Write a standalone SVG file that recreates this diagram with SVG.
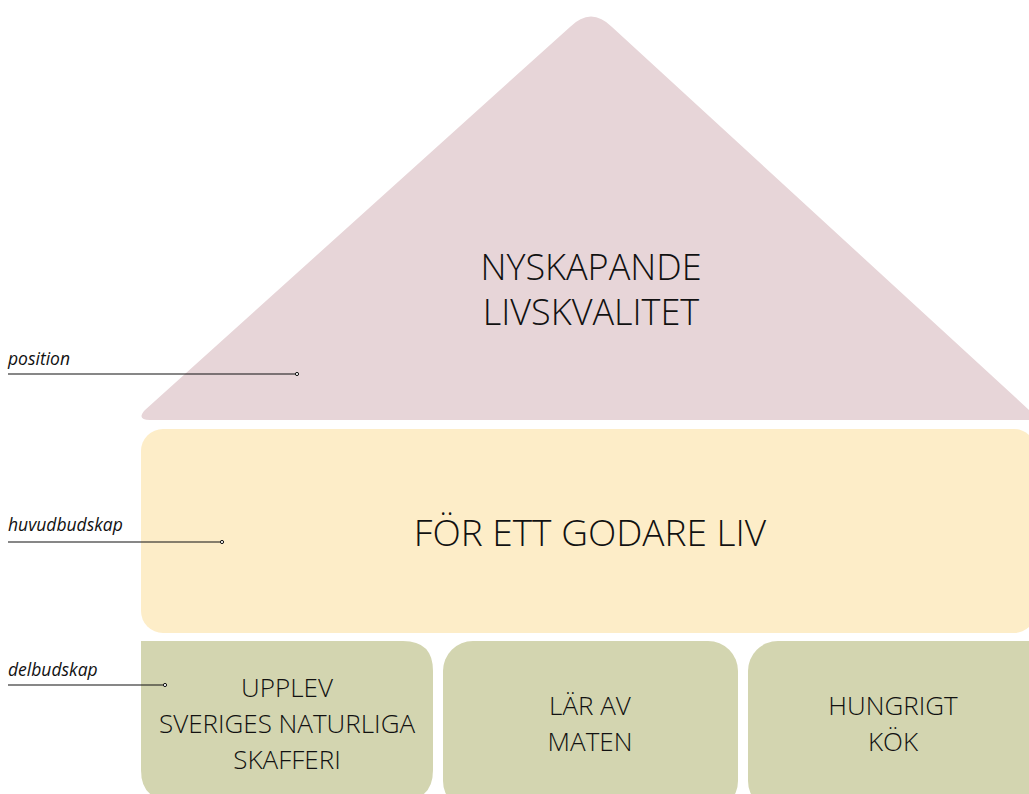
<svg xmlns="http://www.w3.org/2000/svg" width="1029" height="794" viewBox="0 0 1029 794">
<style>
.t{font-family:"Open Sans","Liberation Sans",sans-serif;font-weight:300;fill:#111;text-anchor:middle}
.lbl{font-family:"Open Sans","Liberation Sans",sans-serif;font-style:italic;font-size:17.5px;fill:#111}
.ln{stroke:#111;stroke-width:1.2;fill:none}
.dot{fill:#fff;stroke:#111;stroke-width:1}
</style>
<rect width="1029" height="794" fill="#fff"/>
<g id="position-node">
<path d="M 150 420 L 1040 420 L 612 27 Q 591 6 570 27 L 145 410 Q 136 420 150 420 Z" fill="#e7d5d8"/>
<text class="t" x="591" y="280" font-size="36">NYSKAPANDE</text>
<text class="t" x="591" y="325" font-size="36">LIVSKVALITET</text>
</g>
<g id="huvudbudskap-node">
<rect x="141" y="429" width="895" height="204" rx="22" fill="#fdedc8"/>
<text class="t" x="590" y="546" font-size="37">FÖR ETT GODARE LIV</text>
</g>
<g id="delbudskap-1">
<path d="M 141 641 L 403 641 Q 433 641 433 671 L 433 770 Q 433 800 403 800 L 171 800 Q 141 800 141 770 Z" fill="#d3d5b0"/>
<text class="t" x="287" y="697" font-size="26">UPPLEV</text>
<text class="t" x="287" y="733" font-size="26">SVERIGES NATURLIGA</text>
<text class="t" x="287" y="769" font-size="26">SKAFFERI</text>
</g>
<g id="delbudskap-2">
<rect x="443" y="641" width="295" height="170" rx="30" fill="#d3d5b0"/>
<text class="t" x="590" y="715" font-size="26">LÄR AV</text>
<text class="t" x="590" y="751" font-size="26">MATEN</text>
</g>
<g id="delbudskap-3">
<rect x="748" y="641" width="320" height="170" rx="30" fill="#d3d5b0"/>
<text class="t" x="893" y="715" font-size="26">HUNGRIGT</text>
<text class="t" x="893" y="751" font-size="26">KÖK</text>
</g>
<g id="labels">
<text class="lbl" x="8" y="365">position</text>
<text class="lbl" x="8" y="531">huvudbudskap</text>
<text class="lbl" x="8" y="676">delbudskap</text>
</g>
<g id="connectors">
<line class="ln" x1="8" y1="374" x2="295" y2="374"/>
<circle class="dot" cx="297" cy="374" r="1.6"/>
<line class="ln" x1="8" y1="542" x2="220" y2="542"/>
<circle class="dot" cx="222" cy="542" r="1.6"/>
<line class="ln" x1="8" y1="685" x2="163" y2="685"/>
<circle class="dot" cx="165" cy="685" r="1.6"/>
</g>
</svg>
